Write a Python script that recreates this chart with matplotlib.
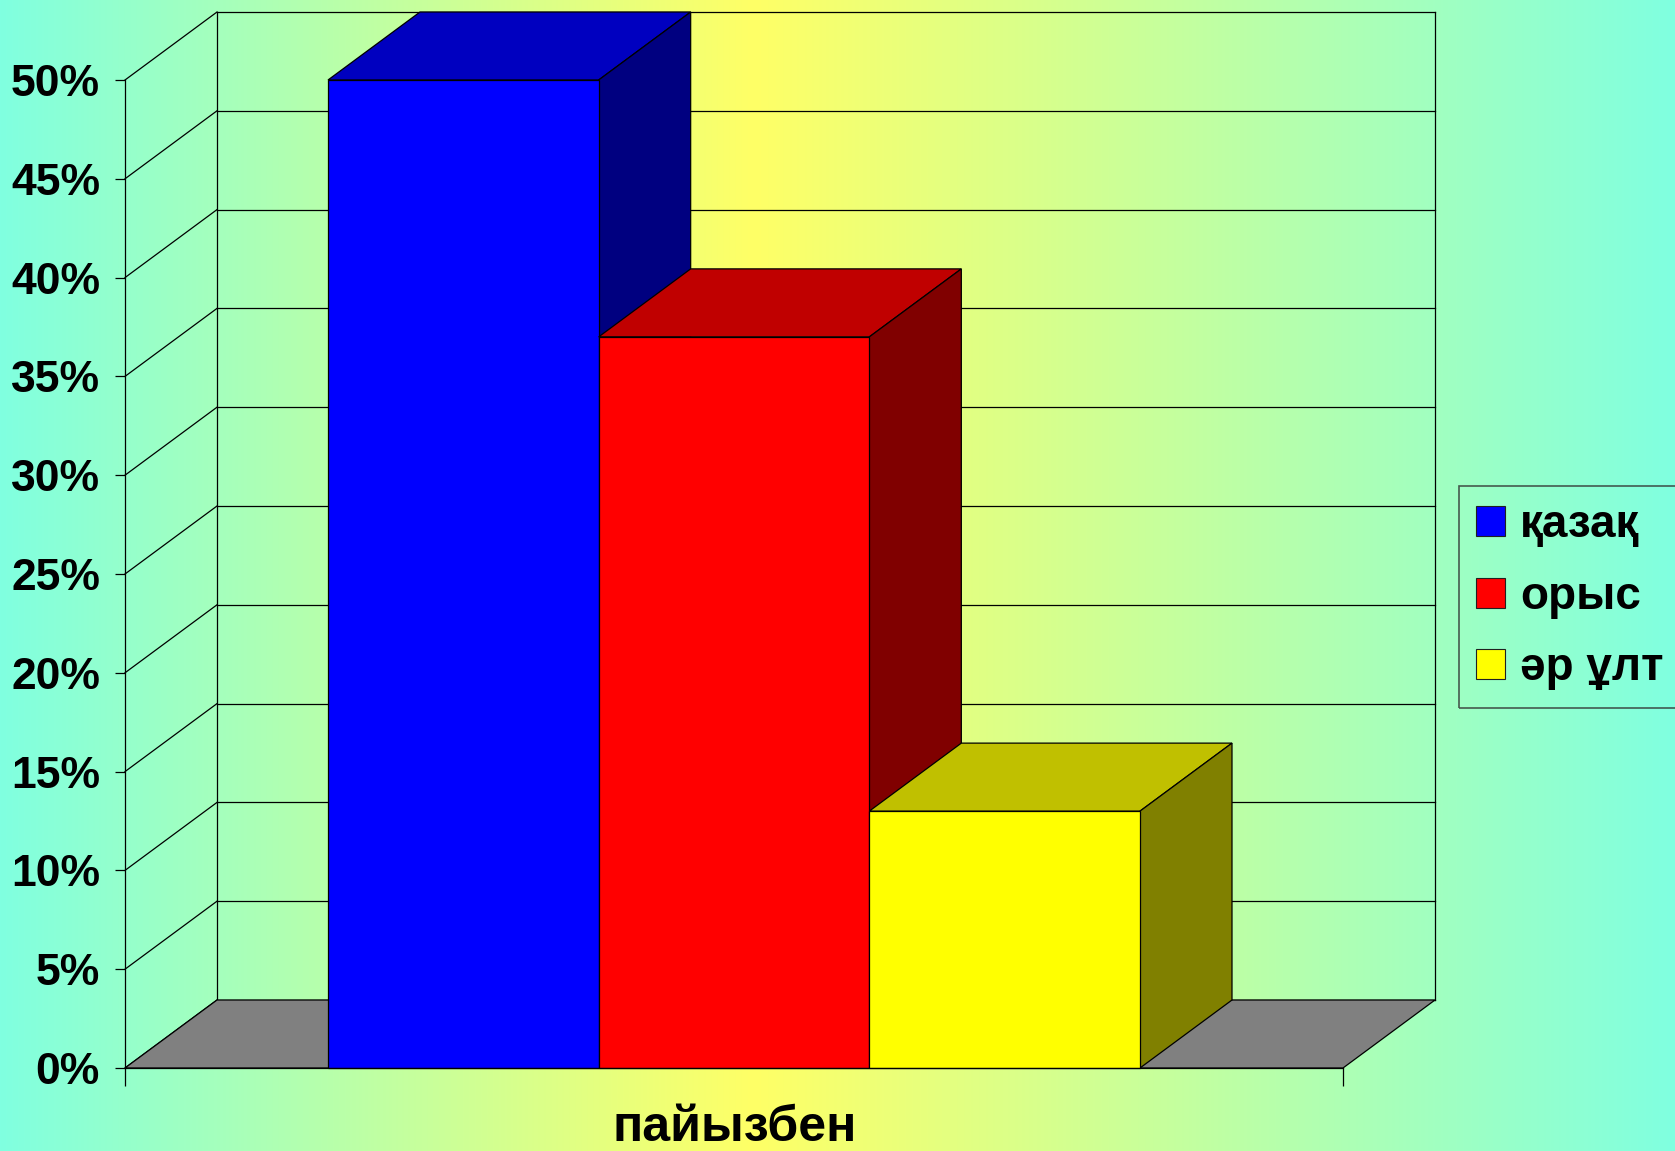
import numpy as np
import matplotlib
matplotlib.use('Agg')
import matplotlib.pyplot as plt
from matplotlib.patches import Polygon, Patch
from matplotlib.colors import to_rgb

# ---------------- data ----------------
category = 'пайызбен'
series = ['қазақ', 'орыс', 'әр ұлт']
values = [50, 37, 13]
yticks = [0, 5, 10, 15, 20, 25, 30, 35, 40, 45, 50]
ytick_labels = [f'{v}%' for v in yticks]

front_colors = ['#0000FF', '#FF0000', '#FFFF00']
top_colors = ['#0000C0', '#C00000', '#C0C000']
side_colors = ['#000080', '#800000', '#808000']

FONT = ['Liberation Sans', 'DejaVu Sans']
plt.rcParams['font.family'] = FONT

W, H = 1675, 1151
fig = plt.figure(figsize=(W / 100, H / 100), dpi=100)

# ---------------- background gradient ----------------
bg = fig.add_axes([0, 0, 1, 1], zorder=-10)
edge = np.array(to_rgb('#80FFE0'))
mid = np.array(to_rgb('#FFFF66'))
xs = np.linspace(0, 1, W)
peak = 0.45
t = np.where(xs <= peak, xs / peak, (1 - xs) / (1 - peak))
grad = edge[None, :] * (1 - t[:, None]) + mid[None, :] * t[:, None]
bg.imshow(grad[None, :, :], aspect='auto', extent=[0, 1, 0, 1])
bg.set_axis_off()

# ---------------- main axes ----------------
ax = fig.add_axes([125 / W, 83 / H, 1218 / W, 988 / H])
ax.set_xlim(0, 1)
ax.set_ylim(0, 50)
ax.patch.set_alpha(0)
for s in ['top', 'right', 'bottom']:
    ax.spines[s].set_visible(False)
ax.spines['left'].set_linewidth(0.9)

# depth offset of the 3D frame (data units)
ddx = 92 / 1218 * 1.0
ddy = 68 / 988 * 50

lw = 0.9
# side wall diagonals + back wall gridlines
for y in yticks:
    ax.plot([0, ddx], [y, y + ddy], color='black', lw=lw, clip_on=False, zorder=1)
    ax.plot([ddx, 1 + ddx], [y + ddy, y + ddy], color='black', lw=lw, clip_on=False, zorder=1)
ax.plot([ddx, ddx], [ddy, 50 + ddy], color='black', lw=lw, clip_on=False, zorder=1)
ax.plot([1 + ddx, 1 + ddx], [ddy, 50 + ddy], color='black', lw=lw, clip_on=False, zorder=1)

# floor
floor = Polygon([(0, 0), (1, 0), (1 + ddx, ddy), (ddx, ddy)], closed=True,
                facecolor='#808080', edgecolor='black', lw=lw, clip_on=False, zorder=2)
ax.add_patch(floor)

# bars (gap width 150%)
n = len(values)
w = 1.0 / (n + 1.5)
start = 0.75 * w
for i, v in enumerate(values):
    x0 = start + i * w
    x1 = x0 + w
    top = Polygon([(x0, v), (x1, v), (x1 + ddx, v + ddy), (x0 + ddx, v + ddy)], closed=True,
                  facecolor=top_colors[i], edgecolor='black', lw=lw, clip_on=False, zorder=3 + i)
    side = Polygon([(x1, 0), (x1 + ddx, ddy), (x1 + ddx, v + ddy), (x1, v)], closed=True,
                   facecolor=side_colors[i], edgecolor='black', lw=lw, clip_on=False, zorder=3 + i)
    front = Polygon([(x0, 0), (x1, 0), (x1, v), (x0, v)], closed=True,
                    facecolor=front_colors[i], edgecolor='black', lw=lw, clip_on=False, zorder=3 + i)
    ax.add_patch(top)
    ax.add_patch(side)
    ax.add_patch(front)

# front x-axis line
ax.plot([0, 1], [0, 0], color='black', lw=lw, clip_on=False, zorder=10)

# ticks
ax.set_yticks(yticks)
ax.set_yticklabels(ytick_labels, fontsize=32, fontweight='bold')
ax.tick_params(axis='y', direction='out', length=7, width=0.9, pad=11)
ax.set_xticks([0, 1])
ax.set_xticklabels(['', ''])
ax.tick_params(axis='x', direction='out', length=13, width=0.9)

lab = ax.set_xlabel(category, fontsize=36, fontweight='bold', va='baseline')
ax.xaxis.set_label_coords(0.5008, -0.074)

# legend
handles = [Patch(facecolor=c, edgecolor='#202020', lw=0.8) for c in front_colors]
leg = fig.legend(handles, series, loc='upper left', bbox_to_anchor=(1459 / W, 1 - 486 / H),
                 frameon=True, fancybox=False, edgecolor='#303030', facecolor='none',
                 prop={'family': FONT, 'weight': 'bold', 'size': 33},
                 handlelength=0.62, handleheight=0.62, handletextpad=0.33,
                 labelspacing=0.6, borderpad=0.38, borderaxespad=0)
leg.get_frame().set_linewidth(1.2)

fig.savefig('out.png', dpi=100)
